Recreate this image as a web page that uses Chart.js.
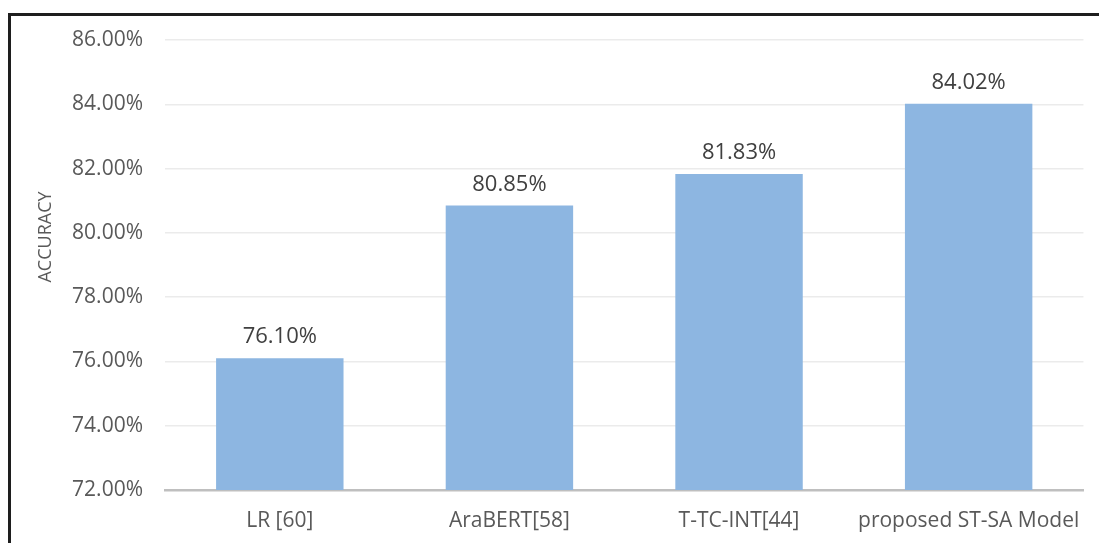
<!DOCTYPE html>
<html>
<head>
<meta charset="utf-8">
<script src="https://cdn.jsdelivr.net/npm/chart.js@4.4.0/dist/chart.umd.min.js"></script>
<style>
  html, body { margin: 0; padding: 0; background: #fff; }
  #wrap { position: relative; width: 1099px; height: 543px; overflow: hidden; }
  #frame { position: absolute; left: 8px; top: 13px; width: 1200px; height: 700px;
           border-top: 3px solid #1e1e1e; border-left: 3px solid #1e1e1e; }
  canvas { position: absolute; left: 0; top: 0; }
</style>
</head>
<body>
<div id="wrap">
  <div id="frame"></div>
  <canvas id="myChart" width="1099" height="543"></canvas>
</div>
<script>
const categories = ['LR [60]', 'AraBERT[58]', 'T-TC-INT[44]', 'proposed ST-SA Model'];
const accuracy = [76.10, 80.85, 81.83, 84.02];
const yTicks = [72, 74, 76, 78, 80, 82, 84, 86];

const textFont = '"Open Sans", "DejaVu Sans", sans-serif';

// values written above each bar
const valueLabels = {
    id: 'valueLabels',
    afterDatasetsDraw(chart) {
        const ctx = chart.ctx;
        const meta = chart.getDatasetMeta(0);
        ctx.save();
        ctx.font = '22px ' + textFont;
        ctx.fillStyle = '#404040';
        ctx.textAlign = 'center';
        ctx.textBaseline = 'bottom';
        meta.data.forEach((bar, i) => {
            ctx.fillText(accuracy[i].toFixed(2) + '%', bar.x, bar.y - 10);
        });
        ctx.restore();
    }
};

// y axis title, placed like the original
const yTitle = {
    id: 'yTitle',
    afterDraw(chart) {
        const ctx = chart.ctx;
        ctx.save();
        ctx.translate(46, 237);
        ctx.rotate(-Math.PI / 2);
        ctx.font = '18px ' + textFont;
        ctx.fillStyle = '#595959';
        ctx.textAlign = 'center';
        ctx.textBaseline = 'middle';
        ctx.fillText('ACCURACY', 0, 0);
        ctx.restore();
    }
};

let myChart = document.getElementById('myChart').getContext('2d');
let barChart = new Chart(myChart, {
    type: 'bar',
    data: {
        labels: categories,
        datasets: [{
            label: 'Accuracy',
            data: accuracy,
            backgroundColor: '#8DB6E1',
            borderWidth: 0,
            categoryPercentage: 0.555,
            barPercentage: 1.0
        }]
    },
    options: {
        responsive: false,
        animation: false,
        layout: { padding: { left: 0, top: 40, right: 14, bottom: 0 } },
        plugins: {
            legend: { display: false },
            tooltip: { enabled: false }
        },
        scales: {
            x: {
                afterFit: s => { s.height = 53; },
                grid: { display: false, drawTicks: false },
                border: { display: true, color: '#bfbfbf', width: 2.5 },
                ticks: {
                    padding: 18,
                    color: '#595959',
                    font: { family: textFont, size: 21 }
                }
            },
            y: {
                min: 72,
                max: 86,
                afterFit: s => { s.width = 165; },
                afterBuildTicks: s => { s.ticks = yTicks.map(v => ({ value: v })); },
                grid: { color: '#ebebeb', lineWidth: 1.5, drawTicks: false },
                border: { display: false },
                ticks: {
                    padding: 22,
                    color: '#595959',
                    font: { family: textFont, size: 21 },
                    callback: v => v.toFixed(2) + '%'
                }
            }
        }
    },
    plugins: [valueLabels, yTitle]
});
</script>
</body>
</html>
